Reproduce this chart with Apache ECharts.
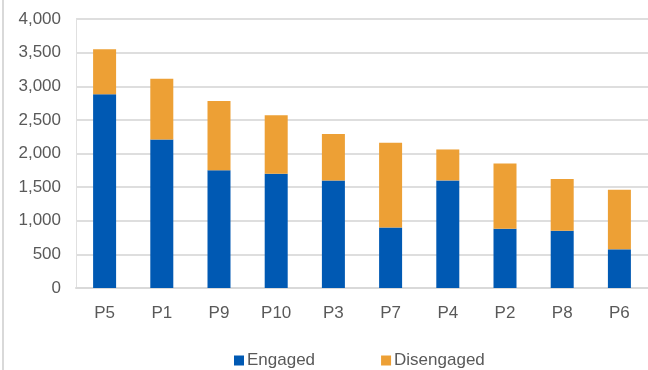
<!DOCTYPE html>
<html>
<head>
<meta charset="utf-8">
<script src="https://cdn.jsdelivr.net/npm/echarts@6/dist/echarts.min.js"></script>
<style>
  html, body { margin: 0; padding: 0; background: #fff; }
  #chart { height: 370px; box-sizing: border-box; border-left: 2px solid #d9d9d9; margin-left: 2px; width: 646px; }
</style>
</head>
<body>
<div id="chart"></div>
<script>
// Participants, ordered by total count
const categories = ['P5', 'P1', 'P9', 'P10', 'P3', 'P7', 'P4', 'P2', 'P8', 'P6'];
const engaged    = [2880, 2210, 1750, 1700, 1600, 900, 1600, 880, 850, 575];
const disengaged = [670, 900, 1030, 870, 690, 1260, 460, 970, 770, 885];
const seriesNames = ['Engaged', 'Disengaged'];

const FONT = '"Liberation Sans", Arial, sans-serif';
const TEXT = '#595959';

const chart = echarts.init(document.getElementById('chart'), null, { renderer: 'canvas' });
chart.setOption({
  animation: false,
  textStyle: { fontFamily: FONT },
  grid: { left: 72, right: -2, top: 19, bottom: 82, containLabel: false },
  legend: {
    left: 225, top: 347,
    itemWidth: 10, itemHeight: 10, itemGap: 66,
    icon: 'rect',
    textStyle: { color: TEXT, fontSize: 17, fontFamily: FONT, padding: [0, 0, 0, -2] },
    data: seriesNames
  },
  xAxis: {
    type: 'category',
    data: categories,
    axisLine: { lineStyle: { color: '#d9d9d9', width: 2 } },
    axisTick: { show: false },
    axisLabel: { color: TEXT, fontSize: 17, margin: 17, fontFamily: FONT }
  },
  yAxis: {
    type: 'value',
    min: 0, max: 4000, interval: 500,
    axisLine: { show: true, lineStyle: { color: '#e0e0e0', width: 1 } },
    axisTick: { show: false },
    splitLine: { lineStyle: { color: '#dedede', width: 2 } },
    axisLabel: {
      color: TEXT, fontSize: 17, margin: 15, fontFamily: FONT,
      formatter: v => v.toLocaleString('en-US')
    }
  },
  series: [
    {
      name: seriesNames[0], type: 'bar', stack: 'total', barWidth: 23,
      data: engaged,
      itemStyle: { color: '#0059b3' }
    },
    {
      name: seriesNames[1], type: 'bar', stack: 'total', barWidth: 23,
      data: disengaged,
      itemStyle: { color: '#eda035' }
    }
  ]
});
</script>
</body>
</html>
